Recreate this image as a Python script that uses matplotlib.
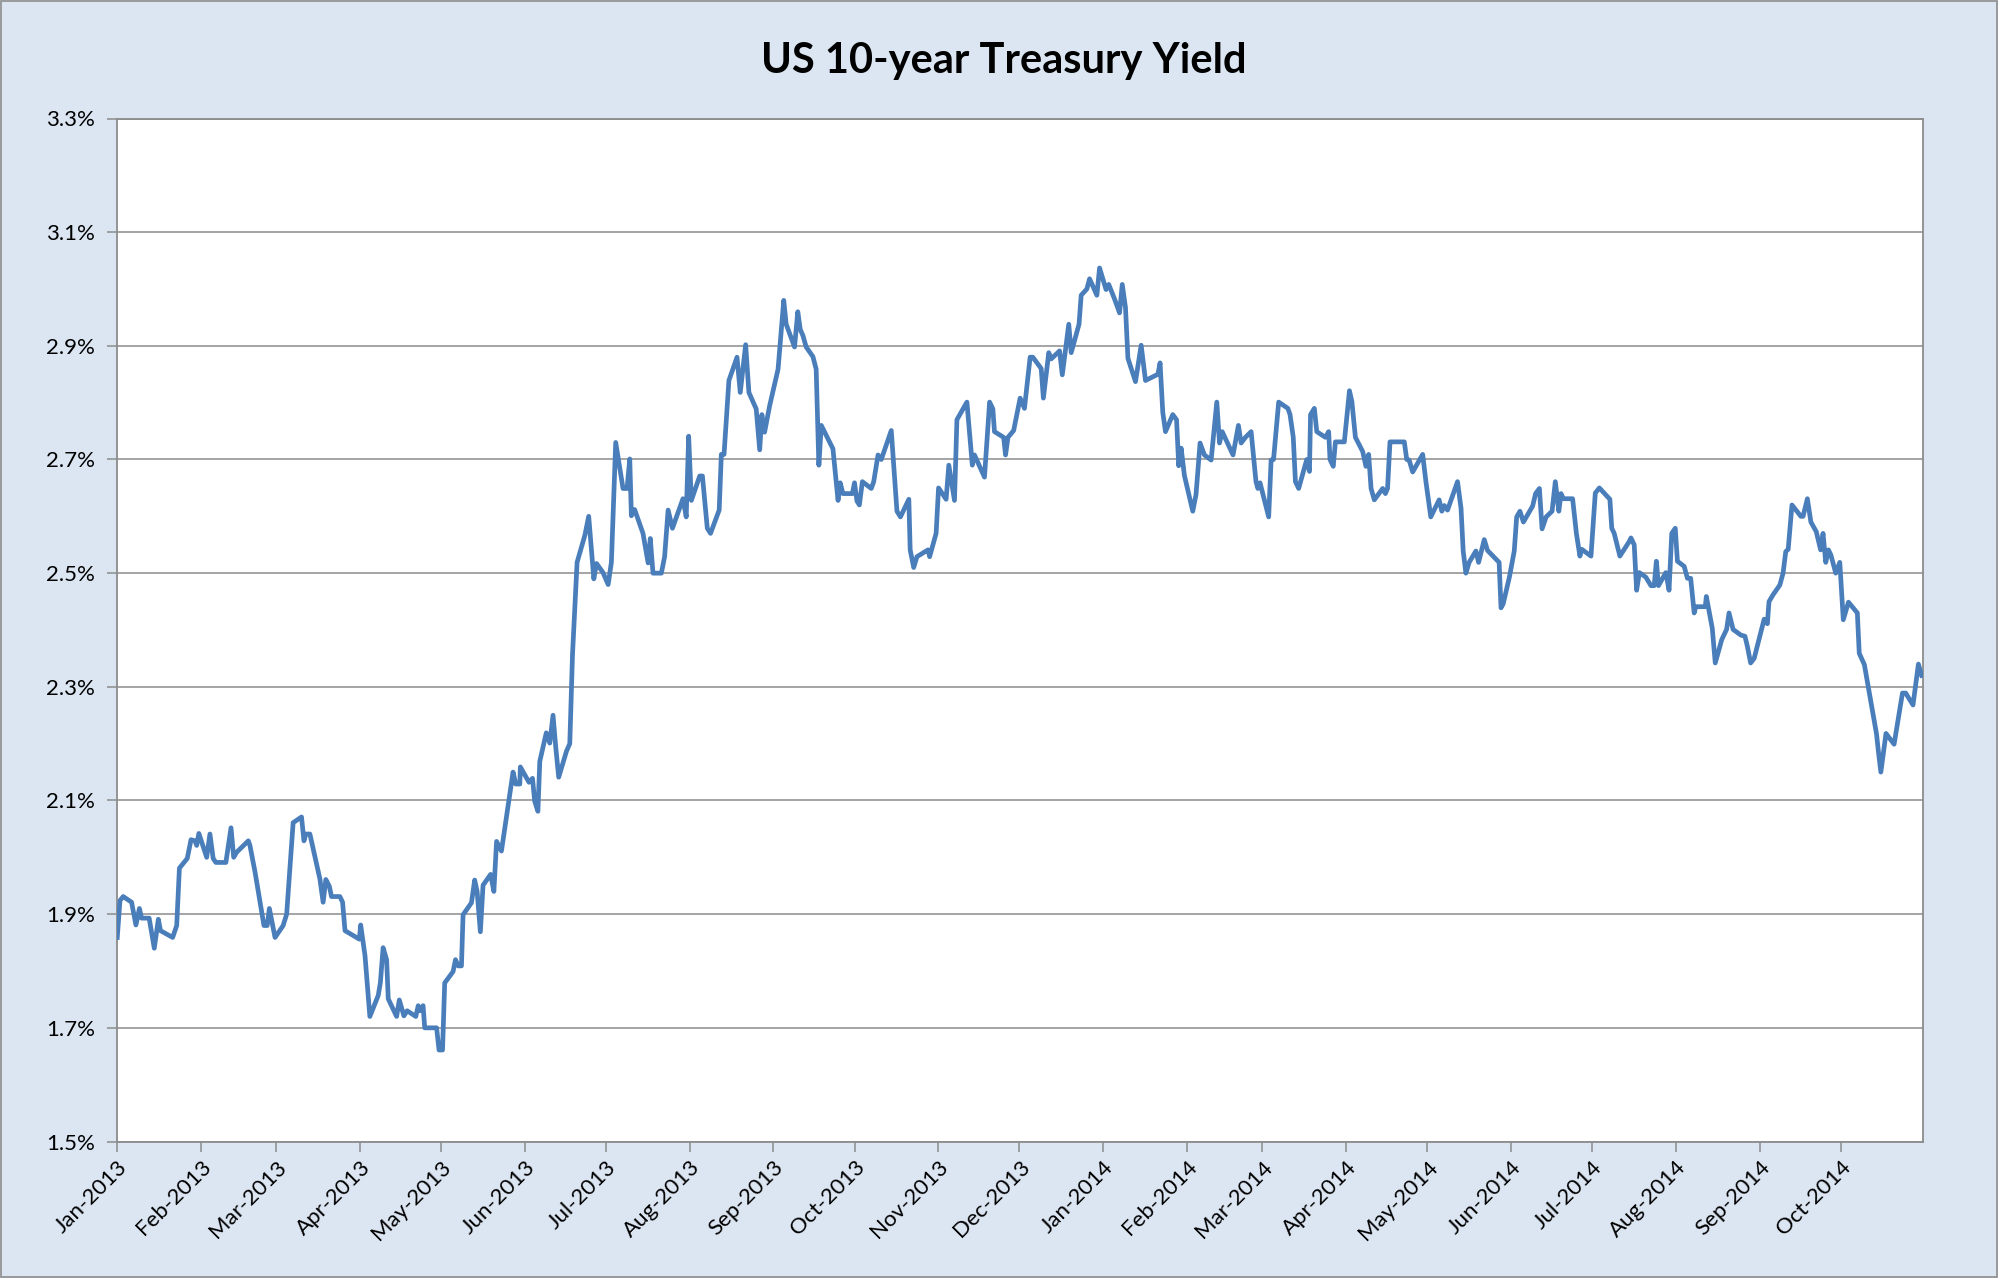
import matplotlib
matplotlib.use("Agg")
import matplotlib.pyplot as plt
import matplotlib.dates as mdates
import matplotlib.ticker as mticker
from matplotlib.patches import Rectangle
import datetime as dt

plt.rcParams['font.family'] = ['Lato', 'DejaVu Sans']

title = "US 10-year Treasury Yield"
start_date = dt.datetime(2013, 1, 1)
end_date = dt.datetime(2014, 10, 31, 12)

# days since 2013-01-01
days = [
    0.1, 1.1, 2.3, 5.4, 7.0, 8.3, 9.1, 11.9, 13.8, 15.3, 16.1, 20.6, 22.1, 23.1, 26.0, 27.4, 28.9, 29.5, 30.3,
    33.2, 34.4, 35.6, 36.6, 40.3, 42.2, 43.2, 44.3, 48.6, 49.2, 51.1, 54.4, 55.6, 56.4, 58.5, 61.5, 62.8,
    65.2, 68.3, 69.2, 69.9, 71.4, 72.9, 75.1, 76.3, 77.3, 78.6, 79.4, 82.5, 83.5, 84.4, 88.7, 89.7, 90.2,
    91.8, 93.6, 96.7, 97.5, 98.5, 99.8, 100.4,
    103.5, 104.5, 106.2, 107.4, 110.6, 111.5, 112.3, 113.3, 113.9, 118.3, 119.2, 120.5, 121.3, 124.4, 125.3,
    126.3, 127.5, 128.1, 131.2, 132.4, 133.3, 134.5, 135.5, 138.3, 139.5, 140.5, 142.3, 144.8, 146.6, 147.6,
    149.1, 149.3, 151.8, 152.5, 153.8, 154.6, 155.8, 156.5, 158.9, 160.2, 161.4, 162.4, 163.5, 166.4, 167.6,
    168.6, 170.3, 173.2, 174.6, 176.5, 177.5, 179.9, 181.8, 183.0, 184.6, 187.3, 188.8, 189.8,
    190.4, 191.6, 194.7, 196.6, 197.4, 198.4, 201.5, 202.7, 204.0, 205.6, 209.5, 210.7, 211.6, 212.6, 215.7,
    216.7, 218.5, 219.7, 222.9, 223.7, 224.7, 226.5, 229.5, 230.7, 232.7, 233.9, 236.6, 237.9, 238.7, 239.7,
    241.6, 244.7, 246.8, 247.7, 250.8, 252.0, 252.9, 253.9, 255.1, 257.6, 258.8, 259.8, 260.7, 265.0, 266.9,
    267.7, 268.7, 272.2, 273.0, 273.9, 274.8,
    275.9, 279.2, 280.1, 281.7, 282.9, 286.6, 288.7, 290.0, 293.1, 293.6, 294.9, 296.1, 300.2, 300.8, 303.2,
    304.1, 306.9, 307.9, 310.0, 310.9, 314.6, 316.6, 317.4, 321.1, 323.0, 324.2, 324.8, 328.2, 328.9, 329.8,
    331.9, 334.3, 335.9, 338.0, 339.0, 342.1, 342.9, 344.9, 345.8, 348.9, 349.9, 352.3, 353.2, 356.1, 356.9,
    359.0, 360.0, 362.7, 363.7,
    366.1, 367.1, 369.2, 371.1, 372.1, 373.3, 374.2, 377.0, 379.1, 380.7, 385.3, 386.1, 387.1, 388.1, 390.8,
    392.2, 393.0, 393.9, 395.1, 398.2, 399.4, 400.9, 402.5, 405.0, 407.1, 408.1, 409.1, 413.1, 415.1, 416.1,
    417.7, 419.8, 421.6, 422.3, 423.1, 426.3, 427.2, 428.1, 430.0, 433.4, 434.2, 435.4, 436.2, 437.4, 440.4,
    441.4, 441.8, 443.2, 444.1, 447.3, 448.5, 449.0,
    450.2, 451.0, 454.3, 456.2, 457.1, 458.4, 461.1, 462.3, 463.3, 464.2, 465.4, 468.5, 469.5, 470.3, 471.2,
    476.5, 477.4, 478.3, 479.6, 483.3, 484.5, 486.3, 489.4, 490.4, 491.3, 492.5, 496.2, 497.5, 498.3, 499.3,
    500.5, 503.0, 504.0, 506.1, 507.3, 511.6, 512.3, 513.1, 515.4, 517.2, 518.1, 519.3, 520.6, 524.0, 525.1,
    526.5, 527.5, 529.0, 531.2, 532.4, 533.7, 534.5, 535.4, 538.8,
    540.2, 541.5, 542.2, 545.6, 547.2, 548.7, 552.6, 553.3, 554.2, 556.3, 559.8, 560.4, 561.6, 562.5, 563.5,
    565.9, 567.8, 569.0, 569.8, 570.6, 573.3, 574.5, 575.5, 576.8, 577.6, 580.1, 581.3, 582.5, 583.8, 584.4,
    587.9, 588.3, 590.5, 591.6, 594.0, 595.8, 596.7, 598.2, 601.1, 602.6, 603.5, 604.7, 606.0, 609.7, 610.9,
    611.5, 613.0, 615.5, 616.7, 617.7, 618.6,
    620.0, 623.3, 624.1, 625.7, 627.0, 629.0, 630.6, 631.5, 632.5, 633.5, 634.4, 636.2, 637.7, 639.0, 640.9,
    644.2, 644.9, 646.8, 651.3, 652.0, 652.9, 654.8, 657.8, 660.9, 662.1, 664.8, 666.8, 668.0,
]

yields = [
    1.859, 1.924, 1.931, 1.921, 1.881, 1.910, 1.893, 1.893, 1.840, 1.891, 1.871, 1.859, 1.880, 1.981, 1.998, 2.031, 2.029, 2.021, 2.042,
    2.000, 2.041, 1.998, 1.991, 1.991, 2.052, 2.000, 2.009, 2.029, 2.021, 1.974, 1.880, 1.880, 1.910, 1.859, 1.880, 1.900,
    2.061, 2.071, 2.029, 2.041, 2.041, 2.009, 1.962, 1.921, 1.961, 1.949, 1.931, 1.931, 1.921, 1.871, 1.859, 1.856, 1.881,
    1.827, 1.720, 1.757, 1.780, 1.841, 1.820, 1.751,
    1.720, 1.749, 1.721, 1.730, 1.720, 1.739, 1.730, 1.739, 1.700, 1.700, 1.661, 1.661, 1.779, 1.799, 1.820,
    1.809, 1.809, 1.899, 1.920, 1.960, 1.940, 1.869, 1.951, 1.970, 1.940, 2.028, 2.011, 2.092, 2.150, 2.129,
    2.129, 2.159, 2.138, 2.132, 2.139, 2.099, 2.081, 2.169, 2.219, 2.201, 2.250, 2.194, 2.141, 2.187, 2.200,
    2.356, 2.519, 2.567, 2.600, 2.490, 2.517, 2.501, 2.480, 2.519, 2.730, 2.649, 2.649, 2.701,
    2.601, 2.612, 2.570, 2.518, 2.561, 2.500, 2.500, 2.529, 2.611, 2.579, 2.631, 2.599, 2.741, 2.628, 2.671,
    2.671, 2.579, 2.570, 2.611, 2.709, 2.709, 2.839, 2.880, 2.818, 2.902, 2.818, 2.789, 2.717, 2.779, 2.748,
    2.795, 2.859, 2.980, 2.938, 2.898, 2.960, 2.929, 2.918, 2.898, 2.881, 2.859, 2.690, 2.760, 2.719, 2.628,
    2.659, 2.640, 2.640, 2.659, 2.627, 2.620,
    2.661, 2.649, 2.661, 2.708, 2.700, 2.751, 2.609, 2.599, 2.630, 2.541, 2.510, 2.529, 2.541, 2.529, 2.570,
    2.650, 2.630, 2.690, 2.628, 2.770, 2.801, 2.690, 2.708, 2.669, 2.801, 2.789, 2.749, 2.739, 2.708, 2.739,
    2.751, 2.808, 2.790, 2.880, 2.880, 2.860, 2.808, 2.888, 2.877, 2.891, 2.849, 2.938, 2.888, 2.938, 2.989,
    3.000, 3.018, 2.989, 3.037,
    2.999, 3.008, 2.983, 2.958, 3.008, 2.967, 2.878, 2.837, 2.901, 2.839, 2.850, 2.870, 2.783, 2.749, 2.779,
    2.770, 2.689, 2.720, 2.672, 2.609, 2.638, 2.729, 2.708, 2.699, 2.801, 2.729, 2.749, 2.708, 2.760, 2.729,
    2.739, 2.749, 2.661, 2.649, 2.659, 2.599, 2.699, 2.700, 2.801, 2.790, 2.779, 2.739, 2.661, 2.649, 2.700,
    2.679, 2.779, 2.790, 2.749, 2.739, 2.749, 2.700,
    2.688, 2.731, 2.731, 2.821, 2.802, 2.739, 2.714, 2.688, 2.709, 2.649, 2.629, 2.649, 2.640, 2.649, 2.731,
    2.731, 2.700, 2.699, 2.678, 2.709, 2.661, 2.599, 2.629, 2.609, 2.619, 2.611, 2.661, 2.614, 2.539, 2.500,
    2.519, 2.539, 2.519, 2.559, 2.540, 2.519, 2.439, 2.446, 2.493, 2.539, 2.599, 2.609, 2.590, 2.618, 2.640,
    2.649, 2.578, 2.599, 2.609, 2.661, 2.609, 2.640, 2.631, 2.631,
    2.570, 2.530, 2.542, 2.530, 2.641, 2.650, 2.630, 2.579, 2.570, 2.530, 2.556, 2.562, 2.550, 2.470, 2.501,
    2.493, 2.478, 2.478, 2.521, 2.478, 2.501, 2.470, 2.570, 2.579, 2.521, 2.512, 2.491, 2.491, 2.430, 2.441,
    2.441, 2.459, 2.403, 2.342, 2.383, 2.401, 2.430, 2.401, 2.391, 2.389, 2.371, 2.342, 2.350, 2.419, 2.411,
    2.450, 2.462, 2.479, 2.500, 2.538, 2.542,
    2.620, 2.600, 2.600, 2.631, 2.590, 2.573, 2.541, 2.570, 2.519, 2.541, 2.532, 2.500, 2.519, 2.418, 2.449,
    2.430, 2.359, 2.339, 2.217, 2.186, 2.150, 2.218, 2.199, 2.289, 2.289, 2.268, 2.340, 2.320,
]

y_ticks = [1.5, 1.7, 1.9, 2.1, 2.3, 2.5, 2.7, 2.9, 3.1, 3.3]

W, H = 1998, 1278
fig = plt.figure(figsize=(W / 100, H / 100), dpi=100)
fig.patch.set_facecolor('#DCE6F2')
fig.patches.append(Rectangle((0.0005, 0.0008), 0.999, 0.9984, transform=fig.transFigure,
                             fill=False, edgecolor='#8C8C8C', linewidth=1.2))

ax = fig.add_axes([117 / W, 1 - 1141.5 / H, (1923 - 117) / W, (1141.5 - 118.5) / H])
ax.set_facecolor('white')

base = mdates.date2num(start_date)
x = [base + d for d in days]
ax.plot(x, yields, color='#4A7EBB', linewidth=3.4, solid_joinstyle='round', zorder=3)

ax.set_xlim(mdates.date2num(start_date), mdates.date2num(end_date))
ax.set_ylim(1.5, 3.3)
ax.set_yticks(y_ticks)
ax.yaxis.set_major_formatter(mticker.FuncFormatter(lambda v, p: f"{v:.1f}%"))
ax.grid(axis='y', color='#8C8C8C', linewidth=1.1)
ax.set_axisbelow(True)

ax.xaxis.set_major_locator(mdates.MonthLocator())
ax.xaxis.set_major_formatter(mdates.DateFormatter('%b-%Y'))
for lbl in ax.get_xticklabels():
    lbl.set_rotation(45)
    lbl.set_ha('right')
    lbl.set_rotation_mode('anchor')

ax.tick_params(axis='both', direction='out', length=7, width=1.1, color='#8C8C8C',
               labelsize=16, labelcolor='black')
ax.tick_params(axis='x', pad=4)
ax.tick_params(axis='y', pad=9)
for s in ax.spines.values():
    s.set_color('#8C8C8C')
    s.set_linewidth(1.3)

fig.text(0.5025, 1 - 61 / H, title, ha='center', va='center', fontsize=30, fontweight='bold')

fig.savefig('out.png', dpi=100, facecolor=fig.get_facecolor())
